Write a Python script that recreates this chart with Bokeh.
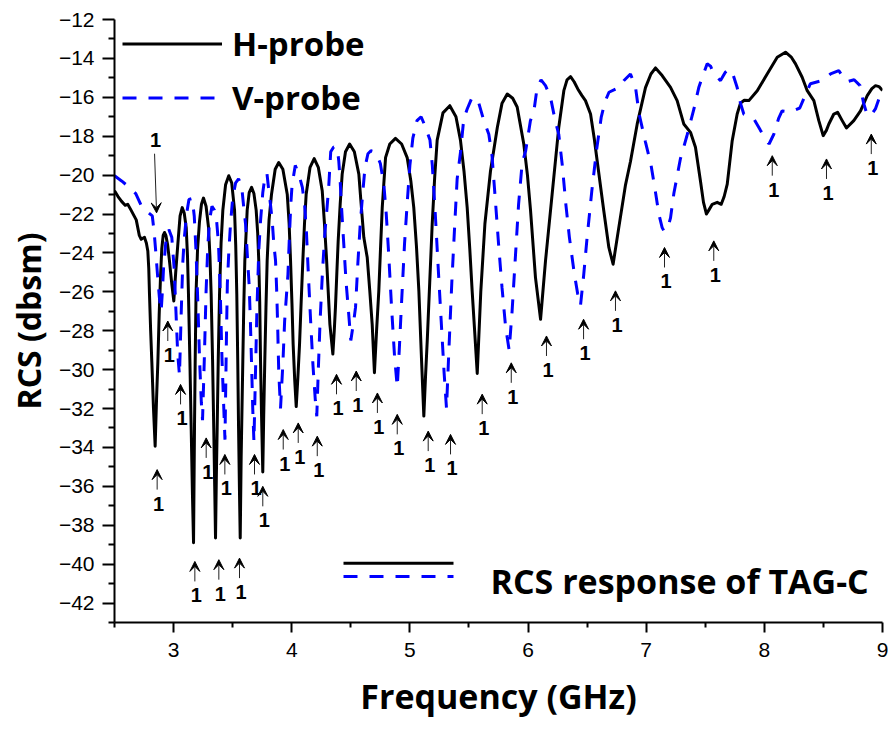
from bokeh.plotting import figure
from bokeh.models import (Range1d, FixedTicker, Legend, LegendItem, Arrow, VeeHead,
                          ColumnDataSource, Label)
from bokeh.embed import file_html
from bokeh.resources import INLINE
from bokeh.core.properties import value

# ---------------- data ----------------
freq_h = [2.500, 2.530, 2.560, 2.590, 2.612, 2.640, 2.684, 2.710, 2.726, 2.740, 2.754, 2.770, 2.782,
          2.790, 2.796, 2.806, 2.816, 2.830, 2.844, 2.856, 2.867, 2.878, 2.889, 2.900, 2.912, 2.923,
          2.935, 2.950, 2.965, 2.985, 3.002, 3.018, 3.036, 3.055, 3.073, 3.090, 3.107, 3.118, 3.126,
          3.138, 3.149, 3.160, 3.169, 3.177, 3.183, 3.190, 3.203, 3.219, 3.236, 3.253, 3.275, 3.296,
          3.308, 3.318, 3.330, 3.340, 3.348, 3.355, 3.362, 3.369, 3.378, 3.389, 3.402, 3.417, 3.440,
          3.467, 3.492, 3.516, 3.526, 3.535, 3.543, 3.550, 3.557, 3.564, 3.572, 3.586, 3.594, 3.603,
          3.623, 3.640, 3.660, 3.680, 3.699, 3.712, 3.721, 3.729, 3.736, 3.745, 3.755, 3.763, 3.772,
          3.782, 3.792, 3.808, 3.829, 3.860, 3.890, 3.925, 3.962, 3.978, 3.990, 4.002, 4.012, 4.025,
          4.038, 4.052, 4.066, 4.080, 4.094, 4.108, 4.122, 4.155, 4.190, 4.225, 4.258, 4.276, 4.294,
          4.309, 4.323, 4.348, 4.360, 4.370, 4.382, 4.393, 4.410, 4.427, 4.455, 4.490, 4.530, 4.568,
          4.585, 4.610, 4.639, 4.660, 4.681, 4.700, 4.718, 4.737, 4.752, 4.766, 4.794, 4.830, 4.878,
          4.930, 4.977, 5.008, 5.033, 5.056, 5.076, 5.098, 5.118, 5.132, 5.147, 5.168, 5.189, 5.210,
          5.231, 5.280, 5.338, 5.390, 5.428, 5.458, 5.485, 5.507, 5.527, 5.550, 5.570, 5.600, 5.635,
          5.682, 5.740, 5.780, 5.824, 5.870, 5.908, 5.964, 5.995, 6.021, 6.063, 6.106, 6.148, 6.204,
          6.260, 6.303, 6.330, 6.360, 6.390, 6.421, 6.455, 6.486, 6.529, 6.560, 6.585, 6.641, 6.684,
          6.720, 6.768, 6.825, 6.867, 6.924, 6.994, 7.040, 7.079, 7.135, 7.206, 7.262, 7.318, 7.375,
          7.417, 7.459, 7.485, 7.510, 7.530, 7.559, 7.601, 7.635, 7.660, 7.686, 7.728, 7.770, 7.798,
          7.830, 7.869, 7.940, 8.024, 8.109, 8.179, 8.230, 8.264, 8.320, 8.363, 8.419, 8.461, 8.498,
          8.525, 8.546, 8.588, 8.620, 8.659, 8.695, 8.757, 8.814, 8.871, 8.910, 8.941, 8.970, 9.000]
rcs_h = [-20.80, -21.10, -21.35, -21.55, -21.50, -21.80, -22.30, -23.10, -23.30, -23.25, -23.20, -23.50, -23.90,
         -24.80, -26.10, -28.00, -29.60, -32.00, -33.94, -31.50, -29.60, -27.20, -25.30, -23.80, -23.10, -22.95,
         -23.10, -23.60, -24.40, -25.60, -26.47, -25.00, -23.55, -22.10, -21.67, -21.95, -22.70, -24.20, -26.10,
         -29.50, -33.00, -36.50, -38.90, -33.00, -29.50, -26.10, -23.80, -22.40, -21.50, -21.18, -21.60, -22.70,
         -24.20, -26.10, -29.50, -33.00, -36.00, -38.66, -35.50, -33.00, -29.50, -26.10, -23.50, -21.80, -20.50,
         -20.03, -20.40, -21.80, -23.60, -26.10, -29.50, -33.00, -36.00, -38.66, -34.50, -29.56, -26.80, -24.40,
         -21.80, -20.90, -20.63, -20.95, -21.80, -23.00, -24.40, -26.50, -29.56, -32.50, -35.26, -32.30, -29.56,
         -26.80, -24.40, -22.30, -20.98, -19.70, -19.35, -19.70, -20.98, -22.50, -24.40, -26.60, -28.70, -30.50,
         -31.90, -30.40, -28.70, -26.50, -24.40, -22.50, -21.00, -19.60, -19.15, -19.60, -20.80, -22.40, -24.24,
         -26.00, -27.67, -29.20, -28.00, -26.80, -25.00, -23.40, -21.50, -19.95, -18.80, -18.40, -18.80, -19.95,
         -21.30, -23.20, -24.24, -25.90, -27.67, -30.16, -28.00, -25.95, -23.70, -21.67, -19.10, -18.40, -18.11,
         -18.40, -19.10, -20.30, -21.67, -23.70, -25.95, -29.40, -32.39, -30.40, -28.50, -25.50, -22.50, -20.10,
         -18.20, -16.80, -16.43, -17.00, -18.20, -19.80, -21.67, -23.80, -25.95, -28.20, -30.20, -26.00, -22.50,
         -19.80, -17.55, -16.30, -15.83, -16.05, -16.50, -18.40, -20.00, -21.80, -25.27, -27.41, -24.40, -20.98,
         -17.55, -15.66, -15.10, -14.94, -15.20, -15.57, -15.90, -16.17, -16.86, -18.10, -19.26, -21.83, -23.72,
         -24.58, -22.70, -20.50, -19.30, -17.37, -15.50, -14.80, -14.49, -14.88, -15.49, -16.17, -17.37, -17.80,
         -18.57, -20.29, -21.40, -22.00, -21.80, -21.50, -21.40, -21.50, -21.10, -20.46, -18.23, -16.86, -16.30,
         -16.15, -16.17, -15.66, -14.80, -13.94, -13.68, -13.95, -14.28, -14.97, -15.66, -16.17, -17.20, -17.97,
         -17.70, -17.37, -16.86, -16.77, -17.20, -17.58, -17.20, -16.70, -15.91, -15.55, -15.40, -15.45, -15.65]

freq_v = [2.500, 2.560, 2.620, 2.680, 2.734, 2.780, 2.820, 2.835, 2.850, 2.865, 2.880, 2.895, 2.905,
          2.915, 2.935, 2.960, 2.985, 3.005, 3.020, 3.035, 3.050, 3.065, 3.078, 3.090, 3.110, 3.130,
          3.158, 3.175, 3.190, 3.205, 3.220, 3.235, 3.245, 3.260, 3.275, 3.290, 3.305, 3.325, 3.345,
          3.365, 3.380, 3.395, 3.410, 3.425, 3.435, 3.447, 3.455, 3.467, 3.482, 3.500, 3.525, 3.550,
          3.575, 3.594, 3.609, 3.625, 3.640, 3.650, 3.660, 3.670, 3.680, 3.692, 3.705, 3.721, 3.736,
          3.755, 3.775, 3.790, 3.806, 3.820, 3.835, 3.848, 3.863, 3.872, 3.880, 3.890, 3.905, 3.925,
          3.940, 3.968, 3.980, 3.992, 4.003, 4.030, 4.060, 4.090, 4.110, 4.125, 4.140, 4.160, 4.180,
          4.200, 4.212, 4.225, 4.240, 4.260, 4.280, 4.300, 4.314, 4.330, 4.355, 4.385, 4.398, 4.410,
          4.420, 4.440, 4.460, 4.483, 4.500, 4.525, 4.540, 4.560, 4.580, 4.600, 4.620, 4.645, 4.670,
          4.700, 4.730, 4.750, 4.780, 4.800, 4.820, 4.845, 4.870, 4.893, 4.910, 4.930, 4.955, 4.980,
          5.000, 5.025, 5.060, 5.095, 5.130, 5.170, 5.190, 5.215, 5.240, 5.265, 5.290, 5.310, 5.330,
          5.355, 5.380, 5.400, 5.430, 5.456, 5.485, 5.527, 5.560, 5.583, 5.626, 5.668, 5.695, 5.720,
          5.750, 5.780, 5.810, 5.840, 5.865, 5.890, 5.920, 5.950, 5.980, 6.020, 6.050, 6.077, 6.110,
          6.148, 6.190, 6.230, 6.260, 6.290, 6.320, 6.350, 6.390, 6.420, 6.444, 6.470, 6.500, 6.540,
          6.580, 6.620, 6.655, 6.685, 6.768, 6.810, 6.867, 6.910, 6.940, 6.994, 7.040, 7.078, 7.107,
          7.135, 7.150, 7.178, 7.206, 7.234, 7.290, 7.346, 7.404, 7.445, 7.474, 7.516, 7.545, 7.572,
          7.629, 7.671, 7.700, 7.728, 7.770, 7.798, 7.826, 7.910, 7.967, 8.040, 8.080, 8.120, 8.150,
          8.220, 8.300, 8.363, 8.390, 8.490, 8.560, 8.630, 8.660, 8.700, 8.760, 8.810, 8.840, 8.870,
          8.900, 8.940, 8.980, 9.000]
rcs_v = [-20.03, -20.30, -20.60, -20.95, -21.67, -21.90, -22.10, -22.90, -24.00, -25.20, -26.30, -27.00, -26.00,
         -24.80, -23.40, -22.80, -23.20, -24.80, -27.00, -29.20, -30.30, -27.00, -24.50, -23.30, -22.00, -21.25,
         -21.20, -22.10, -23.90, -26.50, -29.50, -31.70, -32.60, -29.50, -26.00, -23.60, -22.30, -21.60, -21.80,
         -22.40, -23.50, -26.00, -29.50, -32.00, -33.60, -28.50, -25.60, -24.00, -22.50, -21.20, -20.40, -20.20,
         -20.50, -21.67, -22.50, -24.20, -25.70, -27.50, -29.70, -32.00, -33.70, -30.50, -27.00, -23.90, -22.35,
         -20.90, -20.00, -19.90, -20.80, -21.50, -22.35, -23.50, -24.40, -25.80, -27.50, -30.10, -32.00, -29.70,
         -27.50, -25.10, -23.20, -21.50, -20.50, -19.50, -19.95, -20.63, -21.60, -23.00, -25.00, -27.50, -29.80,
         -31.60, -32.40, -30.00, -27.50, -25.00, -23.00, -21.60, -20.50, -18.80, -18.55, -18.60, -19.26, -20.30,
         -21.50, -23.50, -25.50, -27.20, -28.50, -27.50, -26.80, -24.50, -22.50, -21.00, -19.60, -18.90, -18.75,
         -18.80, -19.10, -19.40, -20.50, -22.00, -24.00, -26.80, -29.30, -30.90, -29.00, -26.50, -23.50, -21.20,
         -19.50, -18.10, -17.20, -17.00, -17.50, -18.20, -19.50, -22.00, -24.80, -27.50, -30.20, -32.00, -29.00,
         -25.50, -22.50, -20.20, -18.75, -17.10, -16.60, -16.00, -16.10, -16.30, -17.20, -17.90, -19.00, -21.00,
         -23.50, -25.80, -27.80, -29.00, -27.00, -24.50, -21.50, -19.40, -18.75, -17.20, -16.70, -15.50, -15.10,
         -15.40, -16.00, -17.20, -17.90, -19.50, -21.50, -23.20, -25.00, -26.10, -26.70, -25.20, -23.20, -20.80,
         -18.70, -17.00, -16.17, -15.74, -15.50, -15.15, -14.80, -15.50, -16.86, -18.30, -19.45, -20.85, -22.00,
         -22.70, -22.87, -22.80, -22.20, -20.95, -19.15, -17.95, -16.60, -15.50, -14.97, -14.28, -14.40, -14.80,
         -15.14, -14.70, -14.55, -14.70, -15.50, -16.30, -16.86, -17.10, -17.70, -18.40, -17.90, -17.10, -16.70,
         -16.75, -16.55, -15.66, -15.30, -15.14, -14.80, -14.63, -14.90, -15.20, -15.10, -15.40, -16.30, -16.90,
         -16.95, -16.60, -15.90, -15.70]

# null markers "1": arrow tip positions (GHz, dBsm)
null_freq = [2.861, 2.951, 3.059, 3.180, 3.276, 3.383, 3.434, 3.558, 3.685, 3.755, 3.928, 4.055, 4.216,
             4.379, 4.546, 4.725, 4.893, 5.155, 5.344, 5.612, 5.858, 6.156, 6.470, 6.740, 7.155, 7.572,
             8.067, 8.526, 8.905]
null_tip = [-35.14, -27.50, -30.76, -39.86, -33.51, -39.77, -34.36, -39.69, -34.36, -36.00, -33.08, -32.74, -33.42,
            -30.24, -30.07, -31.20, -32.30, -33.16, -33.33, -31.26, -29.65, -28.27, -27.41, -25.95, -23.72, -23.38,
            -19.00, -19.17, -17.89]
# the single downward marker at the V-probe kink
down_freq = [2.839, 2.856]
down_rcs = [-18.90, -21.94]

x_ticks = [3, 4, 5, 6, 7, 8, 9]
x_minor = [2.5, 3.5, 4.5, 5.5, 6.5, 7.5, 8.5]
y_ticks = list(range(-42, -11, 2))
y_minor = list(range(-43, -12, 2))

series_names = ["H-probe", "V-probe"]
key_title = "RCS response of TAG-C"

# ---------------- layout ----------------
W, H = 888, 729
ML, MR, MT, MB = 114, 6, 19, 107
X0, X1, Y0, Y1 = 2.5, 9.0, -43.0, -12.0
FRAME_H = H - MT - MB
PX_PER_DB = FRAME_H / (Y1 - Y0)
PX_PER_GHZ = (W - ML - MR) / (X1 - X0)

p = figure(width=W, height=H, output_backend="svg", toolbar_location=None,
           x_range=Range1d(X0, X1), y_range=Range1d(Y0, Y1),
           min_border_left=ML, min_border_right=MR, min_border_top=MT, min_border_bottom=MB)
p.outline_line_color = None
p.xgrid.visible = False
p.ygrid.visible = False
p.background_fill_color = "white"
p.border_fill_color = "white"

DASH = "14 12"
h = p.line(freq_h, rcs_h, line_color="black", line_width=3, line_join="round")
v = p.line(freq_v, rcs_v, line_color="#0000ff", line_width=3, line_dash=DASH)

# axes
MINUS = "\u2212"
xa = p.xaxis[0]
xa.ticker = FixedTicker(ticks=x_ticks, minor_ticks=x_minor)
ya = p.yaxis[0]
ya.ticker = FixedTicker(ticks=y_ticks, minor_ticks=y_minor)
ya.major_label_overrides = {t: str(t).replace("-", MINUS) for t in y_ticks}
for ax in (xa, ya):
    ax.axis_line_width = 2
    ax.major_tick_line_width = 2
    ax.minor_tick_line_width = 2
    ax.major_tick_in = 0
    ax.minor_tick_in = 0
    ax.major_label_text_font = "Liberation Sans"
    ax.major_label_text_font_size = "21px"
    ax.major_label_text_color = "black"
    ax.axis_label_text_font = "Open Sans"
    ax.axis_label_text_font_style = "bold"
    ax.axis_label_text_color = "black"
xa.major_tick_out = 10
xa.minor_tick_out = 5
xa.major_label_standoff = 10
xa.axis_label = "Frequency (GHz)"
xa.axis_label_text_font_size = "34px"
xa.axis_label_standoff = 13
ya.major_tick_out = 12
ya.minor_tick_out = 6
ya.major_label_standoff = 8
ya.axis_label = "RCS (dbsm)"
ya.axis_label_text_font_size = "32px"
ya.axis_label_standoff = 6

# null marker arrows and "1" labels
ARROW_PX = 20
tails = [t - ARROW_PX / PX_PER_DB for t in null_tip]
asrc = ColumnDataSource(dict(x=null_freq, ys=tails, ye=null_tip))
p.add_layout(Arrow(x_start="x", y_start="ys", x_end="x", y_end="ye", source=asrc,
                   line_color="#222222", line_width=1,
                   end=VeeHead(size=10, fill_color="black", line_color="black", line_width=1)))
p.text(x=null_freq, y=tails, text=["1"] * len(null_freq), text_align="center",
       text_baseline="middle", x_offset=1.5, y_offset=14,
       text_font=value("Liberation Sans"), text_font_style="bold", text_font_size="20px",
       text_color="black")
p.add_layout(Arrow(x_start=down_freq[0], y_start=down_rcs[0], x_end=down_freq[1], y_end=down_rcs[1],
                   line_color="#222222", line_width=1,
                   end=VeeHead(size=10, fill_color="black", line_color="black", line_width=1)))
p.text(x=[down_freq[0] + 0.008], y=[down_rcs[0]], text=["1"], text_align="center",
       text_baseline="middle", y_offset=-14,
       text_font=value("Liberation Sans"), text_font_style="bold", text_font_size="20px",
       text_color="black")

# top-left legend (kept inside the plot frame)
ROW = 47
GAP = 54 - ROW
legend_h = 2 * ROW + GAP
legend = Legend(items=[LegendItem(label=series_names[0], renderers=[h]),
                       LegendItem(label=series_names[1], renderers=[v])],
                location=(8, FRAME_H - legend_h - 1), orientation="vertical",
                glyph_width=100, glyph_height=ROW, label_height=ROW, spacing=GAP,
                label_standoff=10, padding=0, margin=0,
                border_line_color=None, background_fill_alpha=0,
                label_text_font="Open Sans", label_text_font_style="bold",
                label_text_font_size="33px", label_text_color="black")
p.add_layout(legend)

# bottom key: two line samples and a caption
key_x = [X0 + (343 - ML) / PX_PER_GHZ, X0 + (453 - ML) / PX_PER_GHZ]
key_y_h = Y1 - (562.7 - MT) / PX_PER_DB
key_y_v = Y1 - (576.0 - MT) / PX_PER_DB
p.line(key_x, [key_y_h, key_y_h], line_color="black", line_width=3)
p.line(key_x, [key_y_v, key_y_v], line_color="#0000ff", line_width=3, line_dash=DASH)
p.add_layout(Label(x=X0 + (490 - ML) / PX_PER_GHZ, y=Y1 - (580 - MT) / PX_PER_DB,
                   text=key_title, text_font="Open Sans", text_font_style="bold",
                   text_font_size="34px", text_color="black", text_baseline="alphabetic"))

open("out.html", "w").write(file_html(p, INLINE))
